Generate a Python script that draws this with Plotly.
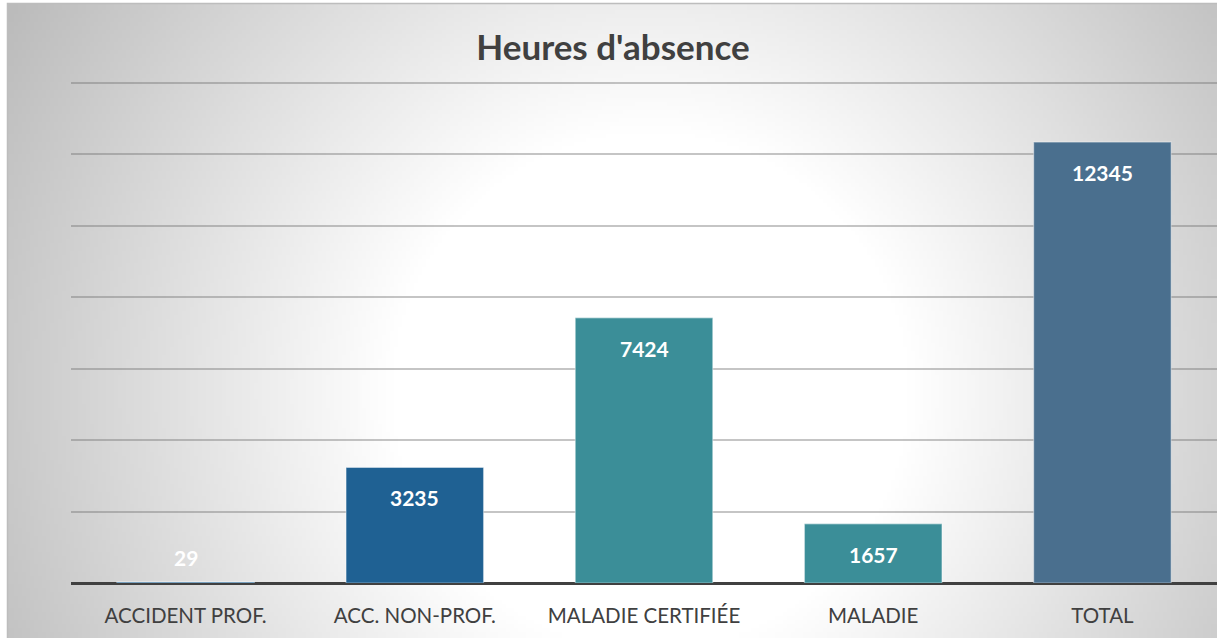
import base64
import struct
import zlib

import numpy as np
import plotly.graph_objects as go

# ---- data ----
categories = ["ACCIDENT PROF.", "ACC. NON-PROF.", "MALADIE CERTIFIÉE", "MALADIE", "TOTAL"]
hours = [29, 3235, 7424, 1657, 12345]
bar_colors = ["#1F6193", "#1F6193", "#3B8E98", "#3B8E98", "#4A6F8E"]
y_ticks = [0, 2000, 4000, 6000, 8000, 10000, 12000, 14000]

W, H = 1217, 638
ML, MR, MT, MB = 71, 0, 81, 55
PW, PH = W - ML - MR, H - MT - MB
TOP_GRID_PX = 83  # pixel row of the top grid line


# ---- radial gradient background as a PNG ----
def png_gray(arr):
    h, w = arr.shape
    raw = b"".join(b"\x00" + bytes(arr[r].astype(np.uint8)) for r in range(h))

    def chunk(tag, data):
        c = struct.pack(">I", len(data)) + tag + data
        return c + struct.pack(">I", zlib.crc32(tag + data) & 0xFFFFFFFF)

    return (b"\x89PNG\r\n\x1a\n" + chunk(b"IHDR", struct.pack(">IIBBBBB", w, h, 8, 0, 0, 0, 0))
            + chunk(b"IDAT", zlib.compress(raw, 9)) + chunk(b"IEND", b""))


gx0, gy0 = 8, 4
gw, gh = W - gx0, H - gy0
s = 4
xs = gx0 + (np.arange(gw // s) + 0.5) * s
ys = gy0 + (np.arange(gh // s) + 0.5) * s
XX, YY = np.meshgrid(xs, ys)
dist = np.sqrt((XX - 650) ** 2 + (YY - 390) ** 2)
val = 255 - 60 * np.clip((dist - 260) / 430, 0, 1.15)
img = "data:image/png;base64," + base64.b64encode(png_gray(np.clip(val, 0, 255))).decode()


def px_to_paper_x(px):
    return (px - ML) / PW


def px_to_paper_y(py):
    return (H - MB - py) / PH


fig = go.Figure()
fig.add_trace(go.Bar(
    x=categories, y=hours,
    marker=dict(color=bar_colors, line=dict(color="rgba(255,255,255,0.4)", width=1.2)),
    width=0.6, hoverinfo="x+y",
))

# data labels (inside end)
grid_max = y_ticks[-1]
range_max = grid_max * PH / (H - MB - TOP_GRID_PX)
for c, v in zip(categories, hours):
    small = v / range_max * PH < 40
    fig.add_annotation(
        x=c, y=v, text=f"<b>{v}</b>", showarrow=False,
        yanchor="bottom" if small else "top", yshift=10 if small else -16,
        font=dict(family="Lato, Open Sans, sans-serif", size=21, color="white"),
    )

fig.update_layout(
    width=W, height=H,
    margin=dict(l=ML, r=MR, t=MT, b=MB),
    paper_bgcolor="white", plot_bgcolor="rgba(0,0,0,0)",
    showlegend=False,
    title=dict(text="<b>Heures d'absence</b>", x=(613) / W, xanchor="center",
               y=1 - 48 / H, yanchor="middle", yref="container",
               font=dict(family="Lato, Open Sans, sans-serif", size=35, color="#404040")),
    images=[dict(source=img, xref="paper", yref="paper",
                 x=px_to_paper_x(gx0), y=px_to_paper_y(gy0),
                 sizex=gw / PW, sizey=gh / PH, sizing="stretch",
                 xanchor="left", yanchor="top", layer="below")],
    shapes=[dict(type="rect", xref="paper", yref="paper",
                 x0=px_to_paper_x(gx0 - 0.5), y0=px_to_paper_y(H + 5),
                 x1=px_to_paper_x(W + 5), y1=px_to_paper_y(gy0 - 0.5),
                 line=dict(color="#bdbdbd", width=1.5), layer="below")],
    xaxis=dict(showgrid=False, showline=False, zeroline=False,
               ticks="outside", ticklen=14, tickcolor="rgba(0,0,0,0)",
               tickfont=dict(family="Lato, Open Sans, sans-serif", size=20.5, color="#404040")),
    yaxis=dict(range=[0, range_max], tickvals=y_ticks, showticklabels=False,
               showgrid=True, gridcolor="rgba(110,110,110,0.4)", gridwidth=1.5,
               zeroline=True, zerolinecolor="#404040", zerolinewidth=3,
               showline=False),
    bargap=0.4,
)

fig.write_html("out.html", config={"displayModeBar": False},
               post_script="document.body.style.margin='0';document.body.style.overflow='hidden';")
